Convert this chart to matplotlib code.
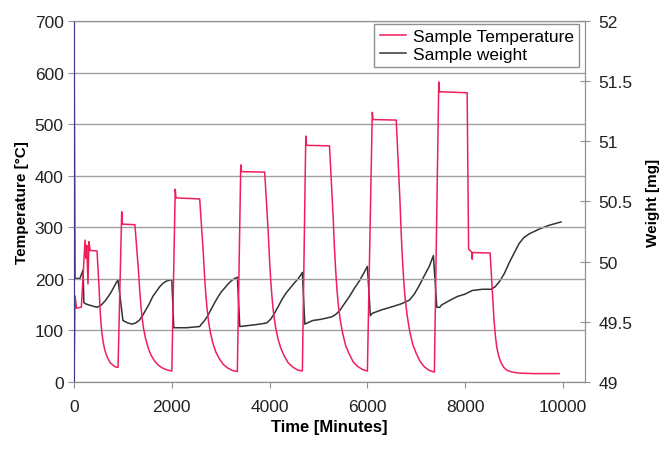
import matplotlib
matplotlib.use("Agg")
import matplotlib.pyplot as plt
from matplotlib.ticker import FormatStrFormatter

plt.rcParams['font.family'] = ['Liberation Sans', 'DejaVu Sans']

# sample temperature [degC] vs time [min]
temp_time = [0, 20, 50, 150, 200, 225, 245, 260, 285, 305, 330, 470,
             484, 498, 512, 526, 540, 554, 571, 593, 621, 655, 694, 739, 789, 845, 900,
             975, 990, 1245,
             1270, 1294, 1319, 1343, 1368, 1392, 1421, 1461, 1510, 1569, 1637, 1715, 1804, 1902, 2000,
             2070, 2085, 2570,
             2595, 2620, 2645, 2670, 2695, 2720, 2750, 2790, 2840, 2900, 2970, 3050, 3140, 3240, 3340,
             3410, 3425, 3900,
             3925, 3950, 3975, 4000, 4025, 4050, 4080, 4120, 4170, 4230, 4300, 4380, 4470, 4570, 4670,
             4740, 4755, 5225,
             5250, 5275, 5300, 5325, 5351, 5376, 5406, 5446, 5497, 5557, 5628, 5708, 5799, 5900, 6000,
             6100, 6115, 6590,
             6615, 6641, 6666, 6691, 6717, 6742, 6772, 6813, 6864, 6924, 6995, 7076, 7167, 7269, 7370,
             7460, 7475, 8040,
             8070, 8140, 8143, 8150, 8510,
             8525, 8545, 8565, 8590, 8615, 8645, 8685, 8730, 8790, 8864, 8960, 9103, 9400, 9920]
temp_vals = [0, 167, 143, 145, 230, 275, 240, 265, 190, 272, 255, 254,
             230, 207, 182, 153, 129, 111, 94, 79, 65, 54, 45, 37, 33, 29, 28,
             330, 306, 305,
             275, 246, 214, 178, 148, 125, 104, 85, 68, 53, 42, 33, 27, 23, 21,
             374, 357, 355,
             320, 285, 248, 205, 170, 143, 118, 95, 75, 58, 45, 34, 27, 22, 20,
             421, 408, 407,
             367, 326, 284, 234, 194, 163, 134, 107, 84, 65, 50, 37, 29, 23, 21,
             477, 459, 458,
             413, 367, 319, 262, 217, 181, 149, 119, 93, 70, 54, 39, 30, 24, 21,
             523, 509, 508,
             457, 406, 352, 289, 238, 198, 162, 129, 99, 74, 56, 40, 29, 22, 19,
             582, 563, 561,
             258, 251, 238, 251, 250,
             225, 190, 155, 120, 92, 68, 50, 38, 28, 22, 19, 17, 16, 16]

# sample weight [mg] vs time [min]
wt_time = [0, 20, 120, 185, 200, 230, 300, 470, 560, 650, 750, 830, 900,
           1000, 1100, 1190, 1260, 1330, 1400, 1470, 1540, 1610, 1680, 1750, 1820, 1900, 2000,
           2040, 2300, 2570, 2606, 2670, 2735, 2800, 2878, 2950, 3015, 3080, 3143, 3215, 3286, 3341,
           3390, 3600, 3800, 3940, 4020, 4100, 4180, 4260, 4340, 4420, 4500, 4590, 4670,
           4720, 4880, 5050, 5266, 5350, 5430, 5530, 5633, 5737, 5837, 5920, 6000,
           6060, 6100, 6300, 6550, 6700, 6860, 6960, 7060, 7160, 7265, 7350,
           7420, 7480, 7520, 7650, 7840, 8000, 8145, 8350, 8530, 8610, 8695, 8800, 8900,
           9000, 9103, 9200, 9307, 9511, 9700, 9960]
wt_vals = [52.0, 49.86, 49.86, 49.93, 49.66, 49.65, 49.64, 49.62, 49.64, 49.68, 49.74, 49.80, 49.85,
           49.51, 49.49, 49.48, 49.49, 49.51, 49.55, 49.60, 49.65, 49.71, 49.75, 49.79, 49.82, 49.84, 49.85,
           49.45, 49.45, 49.46, 49.48, 49.51, 49.55, 49.60, 49.66, 49.71, 49.75, 49.78, 49.81, 49.84, 49.86, 49.87,
           49.46, 49.47, 49.48, 49.49, 49.52, 49.57, 49.63, 49.69, 49.74, 49.78, 49.82, 49.86, 49.91,
           49.48, 49.51, 49.52, 49.54, 49.56, 49.59, 49.65, 49.71, 49.78, 49.84, 49.90, 49.96,
           49.55, 49.57, 49.60, 49.63, 49.65, 49.68, 49.73, 49.80, 49.88, 49.96, 50.05,
           49.62, 49.62, 49.64, 49.67, 49.71, 49.73, 49.76, 49.77, 49.77, 49.79, 49.83, 49.90, 49.99,
           50.07, 50.15, 50.20, 50.23, 50.27, 50.30, 50.33]

fig = plt.figure(figsize=(6.67, 4.52), dpi=100)
ax = fig.add_axes([0.111, 0.153, 0.766, 0.798])
ax2 = ax.twinx()

red = '#f01e5a'
ax.plot(temp_time, temp_vals, color=red, lw=1.1, label='Sample Temperature')
ax2.plot(wt_time[:2], wt_vals[:2], color='#2b2b9a', lw=1.1)
ax2.plot(wt_time[1:], wt_vals[1:], color='#333333', lw=1.1, label='Sample weight')

ax.set_xlim(0, 10450)
ax.set_ylim(0, 700)
ax2.set_ylim(49, 52)
ax.set_xticks([0, 2000, 4000, 6000, 8000, 10000])
ax.set_yticks(range(0, 701, 100))
ax2.set_yticks([49, 49.5, 50, 50.5, 51, 51.5, 52])
ax2.yaxis.set_major_formatter(FormatStrFormatter('%g'))

ax.grid(axis='y', color='#a0a0a0', lw=1)
ax.set_axisbelow(True)
for a in (ax, ax2):
    for s in a.spines.values():
        s.set_color('#909090')
ax.spines['left'].set_color('#3a3a8a')

ax.tick_params(axis='both', labelsize=12.5, colors='#909090', labelcolor='#222222', length=4)
ax.tick_params(axis='x', pad=8)
ax2.tick_params(axis='y', labelsize=12.5, colors='#909090', labelcolor='#222222',
                direction='inout', length=7, pad=6)

ax.set_xlabel('Time [Minutes]', fontsize=12, fontweight='bold', labelpad=4)
ax.set_ylabel('Temperature [°C]', fontsize=11, fontweight='bold', labelpad=4)
ax2.set_ylabel('Weight [mg]', fontsize=11, fontweight='bold', labelpad=10)

h1, l1 = ax.get_legend_handles_labels()
h2, l2 = ax2.get_legend_handles_labels()
leg = ax.legend(h1 + h2, l1 + l2, loc='upper right', bbox_to_anchor=(0.988, 0.993),
                borderaxespad=0, fontsize=12.5, fancybox=False, framealpha=1,
                edgecolor='#909090', handlelength=1.5, handletextpad=0.4,
                borderpad=0.3, labelspacing=0.15)
leg.get_frame().set_linewidth(1)
ax.set_zorder(ax2.get_zorder() + 1)
ax.patch.set_visible(False)

fig.savefig('out.png', dpi=100)
